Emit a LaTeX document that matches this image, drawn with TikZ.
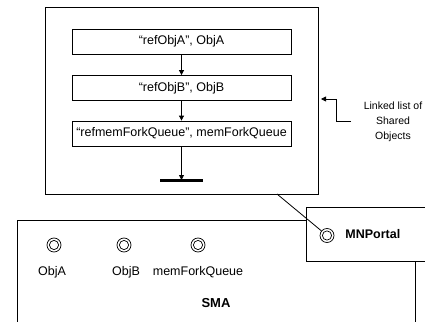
\documentclass[tikz,border=0pt]{standalone}
\usepackage{fontspec}
\setmainfont{Liberation Sans}
\usetikzlibrary{arrows.meta}
\begin{document}
\begin{tikzpicture}[x=1pt,y=-1pt,
  line width=0.8pt,
  frame/.style={draw,fill=white},
  entry/.style={draw,minimum width=219pt,minimum height=25pt,inner sep=0pt,font=\fontsize{12.5}{14}\selectfont},
  lbl/.style={font=\fontsize{12.5}{14}\selectfont,inner sep=0pt},
  port/.style={draw,circle,line width=0.7pt,minimum size=14pt,inner sep=0pt},
  portinner/.style={line width=0.7pt},
  arr/.style={-{Triangle[length=5pt,width=5pt]}}
]
\useasboundingbox (0,0) rectangle (425,321);
\clip (0,0) rectangle (425,321);
% SMA box
\draw[frame] (17,220) rectangle (415,340);
% top box
\draw[frame] (45,7) rectangle (318,194);
% MNPortal box
\draw[frame] (306,207) rectangle (440,261);
\node[entry] (e1) at (181.5,41.5) {“refObjA”, ObjA};
\node[entry] (e2) at (181.5,88) {“refObjB”, ObjB};
\node[entry] (e3) at (181.5,133.5) {“refmemForkQueue”, memForkQueue};
\coordinate (bar) at (181.5,180);
\draw[line width=3pt] (160,180) -- (203,180);
\draw[arr] (e1) -- (e2);
\draw[arr] (e2) -- (e3);
\draw[arr] (e3) -- (bar);
% linked list label
\node[font=\fontsize{10.5}{15}\selectfont,align=center,inner sep=0pt] (ll) at (393,122) {Linked list of\\Shared\\Objects};
\coordinate (llend) at (321,99);
\draw[arr] (351,121) -- (336,121) -- (336,99) -- (llend);
% ports
\node[port] (pA) at (54,245) {};
\node[port] (pB) at (124,245) {};
\node[port] (pQ) at (198,245) {};
\node[port] (pM) at (327,235.5) {};
\foreach \p in {pA,pB,pQ,pM} \draw[portinner] (\p.center) circle (4.6pt);
\node[lbl] at (52,272) {ObjA};
\node[lbl] at (126,272) {ObjB};
\node[lbl] at (198,272) {memForkQueue};
\node[lbl,font=\fontsize{13}{15}\selectfont\bfseries] at (216,303) {SMA};
\node[lbl,font=\fontsize{12.5}{14}\selectfont\bfseries,anchor=west] at (345,234) {MNPortal};
\coordinate (tb) at (277,194);
\draw (tb) -- (pM);
\end{tikzpicture}
\end{document}
